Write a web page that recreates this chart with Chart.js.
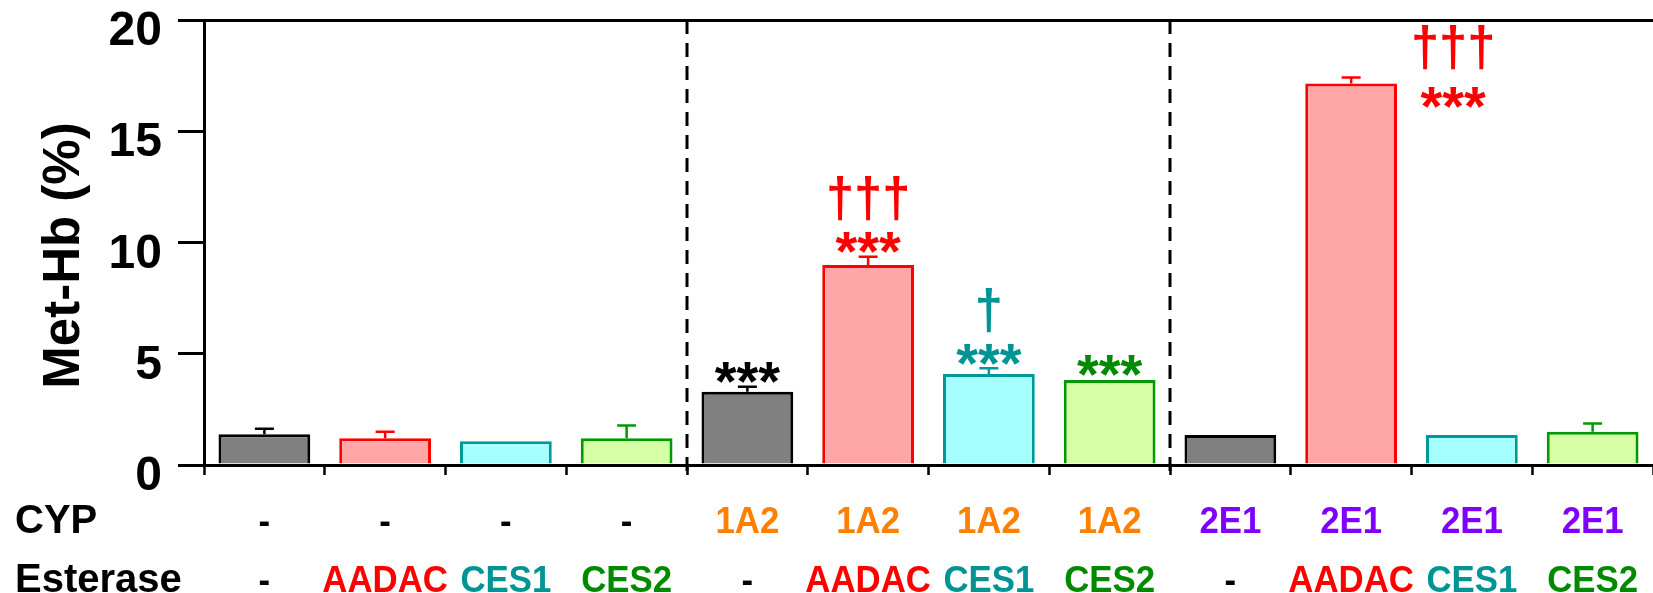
<!DOCTYPE html>
<html>
<head>
<meta charset="utf-8">
<script src="https://cdn.jsdelivr.net/npm/chart.js@4.4.1/dist/chart.umd.min.js"></script>
<style>
    html, body { margin: 0; padding: 0; background: #fff; }
    canvas { display: block; }
</style>
</head>
<body>
<canvas id="methb-chart" width="1653" height="593"></canvas>
<script>
"use strict";

// données
const cypLabels = ['-', '-', '-', '-', '1A2', '1A2', '1A2', '1A2', '2E1', '2E1', '2E1', '2E1'];
const esteraseLabels = ['-', 'AADAC', 'CES1', 'CES2', '-', 'AADAC', 'CES1', 'CES2', '-', 'AADAC', 'CES1', 'CES2'];
const metHbValues = [1.38, 1.20, 1.07, 1.20, 3.29, 8.99, 4.09, 3.82, 1.35, 17.15, 1.35, 1.50];
const metHbErrors = [0.25, 0.30, 0, 0.57, 0.23, 0.37, 0.26, 0, 0, 0.27, 0, 0.37];
const starLabels = ['', '', '', '', '***', '***', '***', '***', '', '***', '', ''];
const daggerLabels = ['', '', '', '', '', '†††', '†', '', '', '†††', '', ''];
const yTicks = [0, 5, 10, 15, 20];
const yTitle = 'Met-Hb (%)';
const rowTitles = ['CYP', 'Esterase'];

const FONT = '"Liberation Sans", Arial, sans-serif';

const esteraseColors = {
    '-': {fill: '#808080', border: '#000000', text: '#000000'},
    'AADAC': {fill: '#FFA6A6', border: '#FF0000', text: '#FF0000'},
    'CES1': {fill: '#A6FFFF', border: '#009999', text: '#009494'},
    'CES2': {fill: '#D4FFA4', border: '#009900', text: '#008A00'}
};
const cypColors = {'-': '#000000', '1A2': '#FF8000', '2E1': '#8000FF'};

/**
 * Ecrit un texte centré sur son encre (et pas sur sa boîte),
 * avec un resserrement horizontal optionnel
 */
function fillInkCentered(ctx, text, x, cy, squeeze = 1) {
    const m = ctx.measureText(text);
    ctx.save();
    ctx.translate(x, cy + (m.actualBoundingBoxAscent - m.actualBoundingBoxDescent) / 2);
    ctx.scale(squeeze, 1);
    ctx.fillText(text, 0, 0);
    ctx.restore();
}

/**
 * Texte posé sur sa ligne de base, resserré horizontalement
 */
function fillSqueezed(ctx, text, x, baseline, squeeze) {
    ctx.save();
    ctx.translate(x, baseline);
    ctx.scale(squeeze, 1);
    ctx.fillText(text, 0, 0);
    ctx.restore();
}

/**
 * Barres d'erreur (SEM) au-dessus de chaque barre
 */
const errorBars = {
    id: 'errorBars',
    afterDatasetsDraw(chart) {
        const {ctx, scales: {y}} = chart;
        const meta = chart.getDatasetMeta(0);
        ctx.save();
        ctx.lineWidth = 2.5;
        meta.data.forEach((bar, i) => {
            if (!metHbErrors[i]) {
                return;
            }
            const top = y.getPixelForValue(metHbValues[i] + metHbErrors[i]);
            ctx.strokeStyle = esteraseColors[esteraseLabels[i]].border;
            ctx.beginPath();
            ctx.moveTo(bar.x, bar.y);
            ctx.lineTo(bar.x, top);
            ctx.moveTo(bar.x - 9.5, top);
            ctx.lineTo(bar.x + 9.5, top);
            ctx.stroke();
        });
        ctx.restore();
    }
};

/**
 * Séparateurs pointillés, significativité, lignes CYP / Esterase et titre Y
 */
const decorations = {
    id: 'decorations',
    afterDraw(chart) {
        const {ctx, chartArea, scales: {x, y}} = chart;
        const catWidth = x.getPixelForValue(1) - x.getPixelForValue(0);
        ctx.save();

        // séparateurs entre les groupes
        ctx.strokeStyle = '#000';
        ctx.lineWidth = 3;
        ctx.setLineDash([14, 9]);
        [4, 8].forEach(i => {
            const px = (x.getPixelForValue(i - 1) + x.getPixelForValue(i)) / 2;
            ctx.beginPath();
            ctx.moveTo(px, chartArea.top);
            ctx.lineTo(px, chartArea.bottom + 10);
            ctx.stroke();
        });
        ctx.setLineDash([]);

        // *** et †
        ctx.textAlign = 'center';
        ctx.textBaseline = 'alphabetic';
        const meta = chart.getDatasetMeta(0);
        meta.data.forEach((bar, i) => {
            if (!starLabels[i] && !daggerLabels[i]) {
                return;
            }
            const top = y.getPixelForValue(metHbValues[i] + (metHbErrors[i] || 0.03));
            let px = bar.x;
            let starY = top - 14;
            let daggerY = starY - 44;
            if (daggerY - 22 < chartArea.top) {
                // pas de place au-dessus : à côté de la barre
                px = bar.x + 0.845 * catWidth;
                starY = top + 20;
                daggerY = starY - 50;
            }
            ctx.fillStyle = esteraseColors[esteraseLabels[i]].text;
            if (starLabels[i]) {
                ctx.font = 'bold 56px ' + FONT;
                fillInkCentered(ctx, starLabels[i], px, starY);
            }
            if (daggerLabels[i]) {
                ctx.font = 'bold 55px ' + FONT;
                fillInkCentered(ctx, daggerLabels[i], px, daggerY, 0.92);
            }
        });

        // lignes de légende sous l'axe
        const rowBaselines = [chartArea.bottom + 68, chartArea.bottom + 127];
        ctx.textAlign = 'left';
        ctx.fillStyle = '#000';
        ctx.font = 'bold 40px ' + FONT;
        rowTitles.forEach((t, r) => ctx.fillText(t, 15, rowBaselines[r]));

        ctx.textAlign = 'center';
        ctx.font = 'bold 37px ' + FONT;
        for (let i = 0; i < cypLabels.length; i++) {
            const px = x.getPixelForValue(i);
            ctx.fillStyle = cypColors[cypLabels[i]];
            fillSqueezed(ctx, cypLabels[i], px, rowBaselines[0], 0.94);
            ctx.fillStyle = esteraseLabels[i] === '-' ? '#000' : esteraseColors[esteraseLabels[i]].text;
            fillSqueezed(ctx, esteraseLabels[i], px, rowBaselines[1], 0.94);
        }

        // titre de l'axe Y
        ctx.translate(65, (chartArea.top + chartArea.bottom) / 2 + 13);
        ctx.rotate(-Math.PI / 2);
        ctx.fillStyle = '#000';
        ctx.font = 'bold 51px ' + FONT;
        fillInkCentered(ctx, yTitle, 0, 0);

        ctx.restore();
    }
};

const metHbChart = (function () {
    const ctx = document.getElementById('methb-chart');

    const dataChart = {
        labels: esteraseLabels.map((e, i) => cypLabels[i] + ' / ' + e),
        datasets: [{
            data: metHbValues,
            backgroundColor: esteraseLabels.map(e => esteraseColors[e].fill),
            borderColor: esteraseLabels.map(e => esteraseColors[e].border),
            borderWidth: 3,
            borderSkipped: 'start',
            barPercentage: 0.76,
            categoryPercentage: 1.0
        }]
    };

    const config = {
        type: 'bar',
        data: dataChart,
        options: {
            responsive: false,
            animation: false,
            devicePixelRatio: 1,
            layout: {
                padding: {top: 20, right: -6, left: 0, bottom: 0}
            },
            plugins: {
                legend: {display: false},
                tooltip: {enabled: false}
            },
            scales: {
                x: {
                    offset: true,
                    ticks: {display: false},
                    grid: {
                        offset: true,
                        drawOnChartArea: false,
                        tickLength: 10,
                        tickColor: '#000',
                        tickWidth: 2.5
                    },
                    border: {color: '#000', width: 3},
                    afterFit: (scale) => {
                        scale.height = 128;
                        scale.paddingLeft = 0;
                        scale.paddingRight = 0;
                    }
                },
                y: {
                    min: 0,
                    max: 20,
                    afterBuildTicks: (scale) => {
                        scale.ticks = yTicks.map(v => ({value: v}));
                    },
                    ticks: {
                        color: '#000',
                        padding: 16,
                        labelOffset: 12,
                        font: {family: FONT, size: 48, weight: 'bold'}
                    },
                    grid: {
                        color: (c) => c.tick && c.tick.value === 20 ? '#000' : 'rgba(0,0,0,0)',
                        lineWidth: 3,
                        tickLength: 26,
                        tickColor: '#000',
                        tickWidth: 3
                    },
                    border: {color: '#000', width: 3},
                    afterFit: (scale) => {
                        scale.width = 204;
                        scale.paddingTop = 0;
                        scale.paddingBottom = 0;
                    }
                }
            }
        },
        plugins: [errorBars, decorations]
    };

    return new Chart(ctx, config);
})();
</script>
</body>
</html>
